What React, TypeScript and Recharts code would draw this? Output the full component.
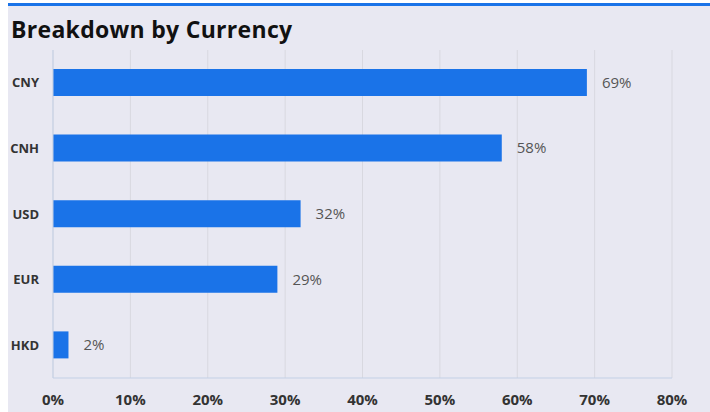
import { BarChart, Bar, XAxis, YAxis, CartesianGrid, LabelList } from "recharts";

const currencies = ["CNY", "CNH", "USD", "EUR", "HKD"];
const shares = [69, 58, 32, 29, 2];
const xTicks = [0, 10, 20, 30, 40, 50, 60, 70, 80];

const data = currencies.map((c, i) => ({ currency: c, share: shares[i] }));

const font = "'Open Sans', sans-serif";

export default function App() {
  return (
    <div
      style={{
        position: "absolute",
        left: 8,
        top: 3,
        width: 702,
        height: 409,
        background: "#e8e8f2",
        borderTop: "3px solid #1a73e8",
        boxSizing: "border-box",
        fontFamily: font,
      }}
    >
      <div
        style={{
          position: "absolute",
          left: 3,
          top: 9,
          fontSize: 23,
          fontWeight: 700,
          color: "#111",
          lineHeight: "28px",
          letterSpacing: 0.3,
        }}
      >
        Breakdown by Currency
      </div>
      <div style={{ position: "absolute", left: 0, top: -3 }}>
        <BarChart
          width={702}
          height={409}
          data={data}
          layout="vertical"
          margin={{ top: 47, right: 38, bottom: 4, left: 0 }}
          barSize={27}
        >
          <CartesianGrid horizontal={false} stroke="#d8d8e0" />
          <XAxis
            type="number"
            domain={[0, 80]}
            ticks={xTicks}
            tickFormatter={(v) => `${v}%`}
            height={30}
            stroke="#c3d0e6"
            tickLine={false}
            tick={{ fill: "#333", fontSize: 15, fontWeight: 700, fontFamily: font }}
            tickMargin={10}
          />
          <YAxis
            type="category"
            dataKey="currency"
            width={45}
            stroke="#c3d0e6"
            tickLine={false}
            tick={{ fill: "#333", fontSize: 13, fontWeight: 700, fontFamily: font }}
            tickMargin={8}
          />
          <Bar dataKey="share" fill="#1a73e8" isAnimationActive={false}>
            <LabelList
              dataKey="share"
              position="right"
              offset={15}
              formatter={(v: number) => `${v}%`}
              style={{ fill: "#555", fontSize: 15, fontFamily: font }}
            />
          </Bar>
        </BarChart>
      </div>
    </div>
  );
}
